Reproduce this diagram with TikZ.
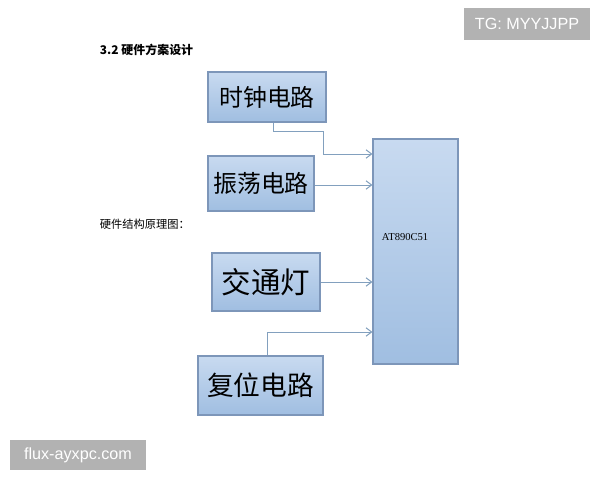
\documentclass[tikz,border=0pt]{standalone}
\usepackage{fontspec}
\setmainfont{Liberation Serif}
\setsansfont{Liberation Sans}
\newfontfamily\cjk{Noto Sans CJK SC}
\usetikzlibrary{arrows.meta}
\definecolor{boxtop}{RGB}{200,218,240}
\definecolor{boxbot}{RGB}{160,190,225}
\definecolor{boxline}{RGB}{125,150,185}
\definecolor{wireclr}{RGB}{130,160,190}
\begin{document}
\begin{tikzpicture}[x=0.025cm,y=-0.025cm,
		blk/.style={draw=boxline,line width=0.8pt,top color=boxtop,bottom color=boxbot,inner sep=0pt,font=\cjk\fontsize{17}{20}\selectfont},
		sig/.style={draw=wireclr,line width=0.7pt,-{Straight Barb[length=4pt,width=6pt]}},
		wmark/.style={fill=gray!60,text=white,inner sep=0pt,font=\sffamily\fontsize{11.5}{13}\selectfont}]
		\useasboundingbox (0,0) rectangle (600,480);
		\fill[white] (0,0) rectangle (600,480);
		\node[anchor=west,font=\cjk\bfseries\fontsize{8.5}{10}\selectfont] (ttl) at (95,50) {3.2 硬件方案设计};
		\node[anchor=west,font=\cjk\fontsize{8}{10}\selectfont] (cap) at (95,224) {硬件结构原理图：};
		% boxes
		\node[blk,minimum width=2.95cm,minimum height=1.25cm] (clk) at (267,97) {时钟电路};
		\node[blk,minimum width=2.65cm,minimum height=1.375cm] (osc) at (261,183.5) {振荡电路};
		\node[blk,minimum width=2.7cm,minimum height=1.45cm,font=\cjk\fontsize{21}{24}\selectfont] (tl) at (266,282) {交通灯};
		\node[blk,minimum width=3.125cm,minimum height=1.475cm,font=\cjk\fontsize{19}{22}\selectfont] (rst) at (260.5,385.5) {复位电路};
		\node[blk,minimum width=2.125cm,minimum height=5.625cm] (mcu) at (415.5,251.5) {};
		\node[anchor=west,font=\fontsize{7.5}{9}\selectfont] (mcuname) at (377,237) {AT890C51};
		% connectors
		\coordinate (c1) at (273,131);
		\draw[sig] (clk.south -| c1) -- (c1) -- (323,131) -- (323,154) -- (mcu.west |- 0,154);
		\draw[sig] (osc.east |- 0,185) -- (mcu.west |- 0,185);
		\draw[sig] (tl.east) -- (mcu.west |- tl.east);
		\draw[sig] (rst.north -| 267,0) -- (267,332) -- (mcu.west |- 0,332);
		% watermarks
		\node[wmark,minimum width=3.125cm,minimum height=0.8cm] (wm1) at (527,24) {TG: MYYJJPP};
		\node[wmark,minimum width=3.4cm,minimum height=0.75cm] (wm2) at (78,455) {flux-ayxpc.com};
	\end{tikzpicture}
\end{document}
